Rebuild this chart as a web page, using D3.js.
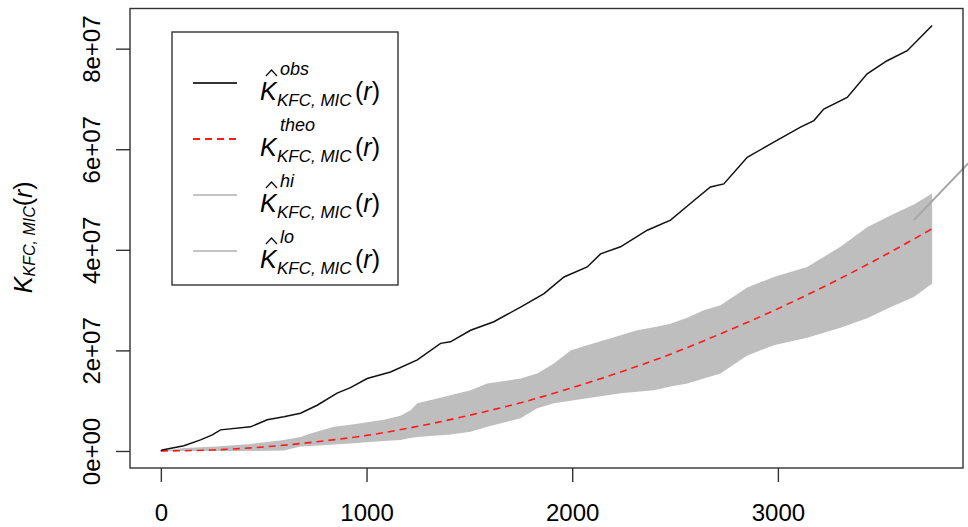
<!DOCTYPE html>
<html>

<head>
  <meta charset="utf-8">
  <title>K function envelope</title>
  <script src="https://cdn.jsdelivr.net/npm/d3@7/dist/d3.min.js"></script>
  <style>
    body {
      margin: 0;
      background: white;
    }

    text {
      font-family: "Liberation Sans", Arial, sans-serif;
      fill: black;
    }

    .axis line {
      stroke: #333;
      stroke-width: 1.4px;
    }

    .axis text {
      font-size: 24px;
    }

    .frame {
      fill: none;
      stroke: #333;
      stroke-width: 1.4px;
    }
  </style>
</head>

<body>
  <svg id="chart"></svg>

  <script>
    var rObs = [0, 7, 112, 193, 250, 290, 436, 517, 598, 679, 760, 857, 922, 1003, 1117, 1247, 1360, 1408,
      1506, 1619, 1749, 1863, 1960, 2073, 2138, 2235, 2365, 2478, 2592, 2672, 2737, 2851, 2980, 3110,
      3175, 3223, 3337, 3434, 3531, 3629, 3709, 3750];
    var kObs = [0, 0.2e6, 1.05e6, 2.2e6, 3.2e6, 4.2e6, 4.8e6, 6.2e6, 6.8e6, 7.5e6, 9.1e6, 11.5e6, 12.6e6,
      14.4e6, 15.7e6, 18.1e6, 21.4e6, 21.7e6, 24.0e6, 25.7e6, 28.6e6, 31.3e6, 34.6e6, 36.6e6, 39.2e6,
      40.6e6, 43.9e6, 45.9e6, 49.8e6, 52.5e6, 53.1e6, 58.4e6, 61.4e6, 64.4e6, 65.7e6, 68.0e6, 70.3e6,
      75.0e6, 77.6e6, 79.6e6, 82.9e6, 84.6e6];

    // theoretical K
    var rTheo = [0, 250, 500, 750, 1000, 1250, 1500, 1750, 2000, 2250, 2500, 2750, 3000, 3250, 3500, 3750];
    var kTheo = [0, 0.2e6, 0.8e6, 1.8e6, 3.1e6, 4.9e6, 7.1e6, 9.6e6, 12.6e6, 15.9e6, 19.6e6, 23.8e6,
      28.3e6, 33.2e6, 38.5e6, 44.2e6];

    // simulation envelope
    var rEnv = [0, 112, 274, 436, 598, 679, 728, 842, 922, 1084, 1165, 1214, 1247, 1408, 1506, 1587, 1749,
      1830, 1911, 1992, 2073, 2154, 2235, 2316, 2397, 2478, 2559, 2640, 2721, 2851, 2980, 3142, 3304,
      3434, 3547, 3661, 3750];
    var kHi = [0, 0.6e6, 0.9e6, 1.4e6, 2.2e6, 2.8e6, 3.5e6, 4.8e6, 5.2e6, 6.2e6, 7.0e6, 8.1e6, 9.5e6,
      11.1e6, 12.1e6, 13.4e6, 14.4e6, 15.4e6, 17.4e6, 20.0e6, 21.0e6, 22.0e6, 23.0e6, 24.0e6, 24.6e6,
      25.3e6, 26.5e6, 28.0e6, 29.0e6, 32.5e6, 34.6e6, 36.6e6, 40.6e6, 44.5e6, 46.8e6, 49.0e6, 51.2e6];
    var kLo = [0, 0, 0, 0, 0.1e6, 0.9e6, 1.0e6, 1.3e6, 1.5e6, 2.0e6, 2.2e6, 2.6e6, 2.8e6, 3.3e6, 3.8e6,
      4.8e6, 6.5e6, 8.5e6, 9.5e6, 10.0e6, 10.5e6, 11.0e6, 11.5e6, 11.8e6, 12.1e6, 12.8e6, 13.4e6,
      14.4e6, 15.4e6, 19.0e6, 21.0e6, 22.5e6, 24.5e6, 26.4e6, 28.6e6, 30.6e6, 33.3e6];

    // stray grey segment at the right edge
    var rStray = [3661, 3926];
    var kStray = [45.9e6, 57.2e6];

    var xTicks = [0, 1000, 2000, 3000];
    var yTicks = [0, 2e7, 4e7, 6e7, 8e7];
    var yTickLabels = ['0e+00', '2e+07', '4e+07', '6e+07', '8e+07'];

    var legendSup = ['obs', 'theo', 'hi', 'lo'];
    var legendHat = [true, false, true, true];

    var W = 968, H = 527;
    var plot = { left: 130, right: 963, top: 8.5, bottom: 468 };

    var svg = d3.select('#chart')
      .attr('width', W)
      .attr('height', H);

    // R style 4% padding on both axes
    var rMax = d3.max(rObs);
    var kMax = d3.max(kObs);
    var x = d3.scaleLinear()
      .domain([-0.04 * rMax, 1.04 * rMax])
      .range([plot.left, plot.right]);
    var y = d3.scaleLinear()
      .domain([-0.04 * kMax, 1.04 * kMax])
      .range([plot.bottom, plot.top]);

    var env = rEnv.map((r, i) => ({ r: r, hi: kHi[i], lo: kLo[i] }));

    svg.append('path')
      .datum(env)
      .attr('fill', '#bebebe')
      .attr('d', d3.area()
        .x(d => x(d.r))
        .y0(d => y(d.lo))
        .y1(d => y(d.hi)));

    svg.append('path')
      .datum(rTheo.map((r, i) => [r, kTheo[i]]))
      .attr('fill', 'none')
      .attr('stroke', '#ff1a1a')
      .attr('stroke-width', 1.6)
      .attr('stroke-dasharray', '7,5')
      .attr('d', d3.line()
        .x(d => x(d[0]))
        .y(d => y(d[1]))
        .curve(d3.curveMonotoneX));

    svg.append('path')
      .datum(rObs.map((r, i) => [r, kObs[i]]))
      .attr('fill', 'none')
      .attr('stroke', '#111')
      .attr('stroke-width', 1.5)
      .attr('d', d3.line()
        .x(d => x(d[0]))
        .y(d => y(d[1])));

    svg.append('path')
      .datum(rStray.map((r, i) => [r, kStray[i]]))
      .attr('fill', 'none')
      .attr('stroke', '#a6a6a6')
      .attr('stroke-width', 2)
      .attr('d', d3.line()
        .x(d => x(d[0]))
        .y(d => y(d[1])));

    // frame
    svg.append('rect')
      .attr('class', 'frame')
      .attr('x', plot.left)
      .attr('y', plot.top)
      .attr('width', plot.right - plot.left)
      .attr('height', plot.bottom - plot.top);

    // axes
    var xAxis = svg.append('g')
      .attr('class', 'axis')
      .attr('transform', 'translate(0,' + plot.bottom + ')')
      .call(d3.axisBottom(x).tickValues(xTicks).tickSize(14).tickPadding(22).tickFormat(d3.format('d')));
    xAxis.select('.domain').remove();
    xAxis.selectAll('text').attr('fill', 'black');

    var yAxis = svg.append('g')
      .attr('class', 'axis')
      .attr('transform', 'translate(' + plot.left + ',0)')
      .call(d3.axisLeft(y).tickValues(yTicks).tickSize(14).tickFormat((d, i) => yTickLabels[i]));
    yAxis.select('.domain').remove();
    yAxis.selectAll('text')
      .attr('fill', 'black')
      .attr('transform', 'rotate(-90)')
      .attr('x', 0)
      .attr('y', -30)
      .attr('dy', 0)
      .attr('text-anchor', 'middle');

    // y label
    var ylab = svg.append('text')
      .attr('transform', 'translate(32,' + ((plot.top + plot.bottom) / 2 - 1) + ') rotate(-90)')
      .attr('text-anchor', 'middle')
      .style('font-size', '25px');
    ylab.append('tspan').style('font-style', 'italic').text('K');
    ylab.append('tspan').attr('dy', 3).style('font-size', '16px').style('font-style', 'italic').text('KFC, MIC');
    ylab.append('tspan').attr('dy', -3).text('(');
    ylab.append('tspan').style('font-style', 'italic').text('r');
    ylab.append('tspan').text(')');

    // legend
    var lg = svg.append('g');
    lg.append('rect')
      .attr('x', 172)
      .attr('y', 32)
      .attr('width', 226)
      .attr('height', 253)
      .attr('fill', 'white')
      .attr('stroke', '#333')
      .attr('stroke-width', 1.4);

    var sampleStroke = ['#333', '#ff1a1a', '#c4c4c4', '#c4c4c4'];
    var sampleDash = [null, '7,5', null, null];

    legendSup.forEach((s, i) => {
      var base = 100 + i * 56;
      lg.append('line')
        .attr('x1', 193).attr('x2', 237)
        .attr('y1', base - 17).attr('y2', base - 17)
        .attr('stroke', sampleStroke[i])
        .attr('stroke-width', 1.8)
        .attr('stroke-dasharray', sampleDash[i]);

      // hat accent over K
      if (legendHat[i]) {
        lg.append('path')
          .attr('d', 'M266,' + (base - 24) + 'L271.5,' + (base - 30) + 'L277,' + (base - 24))
          .attr('fill', 'none')
          .attr('stroke', '#111')
          .attr('stroke-width', 1.3);
      }

      // K, then superscript and subscript stacked after it, then (r)
      var t = lg.append('text')
        .attr('x', 260).attr('y', base)
        .style('font-size', '25px');
      t.append('tspan').style('font-style', 'italic').text('K');
      t.append('tspan')
        .attr('x', 280).attr('dy', -25)
        .style('font-size', '18px').style('font-style', 'italic')
        .text(s);
      t.append('tspan')
        .attr('x', 277).attr('dy', 31)
        .style('font-size', '17px').style('font-style', 'italic')
        .text('KFC, MIC');
      t.append('tspan').attr('x', 355).attr('dy', -6).text('(');
      t.append('tspan').style('font-style', 'italic').text('r');
      t.append('tspan').text(')');
    });
  </script>
</body>

</html>
